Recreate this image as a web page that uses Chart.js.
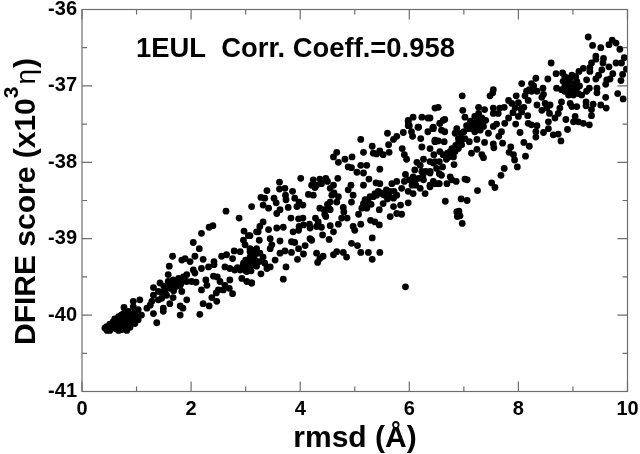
<!DOCTYPE html>
<html>
<head>
<meta charset="utf-8">
<style>html,body{margin:0;padding:0;background:#fff}canvas{display:block}</style>
<script src="https://cdn.jsdelivr.net/npm/chart.js@4/dist/chart.umd.min.js"></script>
</head>
<body>
<canvas id="c" width="640" height="454"></canvas>
<script>
const xTicks = [0,2,4,6,8,10];
const yTicks = [-36,-37,-38,-39,-40,-41];
const xLabel = "rmsd (Å)";
const note = "1EUL  Corr. Coeff.=0.958";
const rmsdMain = [
9.28,9.36,9.51,9.66,9.72,9.79,9.86,9.42,9.42,9.56,
9.55,9.34,9.31,9.19,9.11,8.98,9.31,9.53,9.47,9.42,
9.66,9.79,9.89,9.94,9.98,9.91,9.88,9.73,9.62,9.68,
9.60,9.44,9.44,9.30,9.25,9.82,9.92,9.60,9.51,9.61,
9.37,9.34,9.34,9.24,9.24,9.30,9.19,9.10,9.01,9.04,
9.07,8.98,8.95,8.79,8.76,8.73,8.67,8.87,8.90,8.78,
8.73,8.64,8.46,8.32,8.32,8.55,8.55,8.57,8.52,8.58,
8.43,8.34,8.49,8.43,8.46,8.45,8.34,8.24,8.15,8.06,
8.24,8.32,8.54,8.60,8.69,8.81,8.85,8.92,8.70,8.79,
8.82,8.92,8.98,9.07,9.01,8.92,8.85,9.07,8.89,9.16,
9.25,9.10,9.07,6.97,7.54,7.53,7.48,6.53,6.47,6.98,
7.02,7.27,7.38,7.54,7.66,7.74,7.54,7.63,7.82,7.96,
7.88,7.94,8.10,8.18,8.06,8.00,7.82,7.75,7.95,8.17,
8.18,8.24,8.34,8.03,8.10,8.20,8.13,7.86,7.83,7.91,
7.93,7.98,7.74,7.68,7.51,7.57,7.25,7.02,7.06,6.95,
7.06,6.91,6.88,6.66,6.87,6.93,6.97,7.11,7.17,7.24,
7.30,7.36,7.30,7.20,7.14,7.08,7.27,7.33,7.20,7.27,
7.45,7.54,7.60,7.69,7.64,7.71,7.54,7.55,7.38,7.24,
7.10,7.02,7.00,6.87,6.84,6.90,6.96,6.90,6.84,6.81,
6.72,6.75,6.56,6.62,6.47,6.53,6.64,6.45,7.14,7.24,
7.33,7.36,6.82,6.61,6.55,6.47,6.38,6.59,6.75,6.78,
6.86,6.69,6.55,6.47,6.38,6.38,6.62,6.56,6.38,6.44,
6.59,6.65,6.65,
5.11,5.60,5.98,6.17,6.00,6.44,6.34,6.04,6.06,5.89,
5.77,5.71,5.62,5.32,6.21,6.23,6.47,6.38,5.87,5.91,
5.95,5.46,5.34,5.40,5.63,5.52,5.16,4.67,4.61,4.70,
4.82,4.95,4.88,4.94,5.11,5.22,5.04,5.16,5.26,5.46,
5.16,5.39,5.46,6.14,6.26,6.20,6.44,6.23,6.38,5.93,
5.77,5.91,6.07,6.10,6.17,6.26,6.44,6.53,6.38,5.86,
5.98,6.07,6.20,6.29,5.62,5.71,5.77,5.65,5.55,5.40,
5.34,5.25,5.16,5.22,5.13,5.07,5.52,5.71,5.77,5.86,
5.84,5.98,5.65,5.45,5.29,5.37,5.45,5.11,4.97,5.00,
5.32,4.94,5.05,5.11,5.25,5.46,5.32,5.93,4.85,4.79,
4.67,4.61,4.30,4.42,4.36,4.32,4.53,4.41,4.61,4.55,
4.70,4.39,4.30,4.33,4.28,4.18,4.17,4.76,4.86,4.47,
4.55,4.36,4.44,4.52,4.79,4.80,4.67,4.55,4.70,4.58,
4.55,4.61,4.94,4.97,4.88,4.93,4.69,4.47,4.36,4.24,
4.21,4.27,4.15,4.24,4.39,4.01,3.62,3.62,3.72,3.86,
3.73,3.74,3.90,3.98,4.05,3.94,3.78,3.39,3.28,3.35,
3.52,3.56,3.32,3.42,3.11,3.63,3.57,3.83,3.97,4.05,
3.32,3.26,3.20,3.42,3.57,3.69,3.87,3.98,3.97,4.06,
3.08,3.25,3.45,3.63,3.48,3.45,3.84,3.90,4.18,4.21,
4.09,3.97,3.84,3.72,3.63,4.06,3.95,3.54,3.74,3.69,
3.28,3.11,3.32,3.14,3.08,3.20,3.26,3.17,3.35,3.45,
3.39,3.08,5.19,5.28,5.37,5.43,5.52,
2.64,2.88,6.34,6.23,6.07,5.98,5.98,6.16,6.43,6.56,
2.40,2.33,2.19,2.04,2.15,1.66,1.60,1.83,1.89,1.98,
2.07,2.22,2.42,2.42,2.32,2.19,2.04,2.56,2.65,2.79,
2.76,2.62,2.90,2.97,3.05,2.96,2.99,3.23,3.17,3.08,
2.71,2.80,2.90,3.02,2.96,3.11,3.08,3.02,2.93,3.02,
3.11,2.07,2.09,2.01,1.92,2.41,2.48,2.27,2.29,2.19,
2.71,2.62,2.53,2.50,2.59,2.70,2.76,2.46,2.38,2.47,
2.33,2.22,2.16,1.58,1.43,1.31,1.58,1.67,1.77,1.86,
1.92,1.80,1.70,1.83,1.61,1.52,1.40,1.31,1.40,1.28,
1.25,1.46,1.55,1.67,1.92,1.80,1.85,1.61,1.49,1.49,
1.31,1.80,1.37,1.06,0.94,0.77,0.94,1.03,0.85,0.76,
0.67,1.09,1.00,0.91,0.82,0.70,0.57,0.51,0.45,0.46,
0.54,0.64,0.73,0.79,0.88,0.97,1.03,0.60,0.76,0.88,
0.94,0.67,0.51,0.42,0.82,0.70,1.19
];
const scoreMain = [
-36.36,-36.47,-36.50,-36.46,-36.40,-36.44,-36.52,-36.61,-36.65,-36.64,
-36.70,-36.70,-36.76,-36.77,-36.81,-36.86,-36.81,-36.79,-36.86,-36.91,
-36.75,-36.70,-36.70,-36.63,-36.78,-36.85,-36.93,-36.84,-36.92,-36.91,
-36.98,-37.03,-37.09,-37.03,-36.92,-37.10,-37.17,-37.15,-37.25,-37.29,
-37.24,-37.31,-37.39,-37.21,-37.26,-37.51,-37.49,-37.47,-37.47,-37.40,
-37.27,-37.27,-37.23,-37.21,-37.29,-37.36,-37.42,-37.44,-37.57,-37.72,
-37.63,-37.64,-37.61,-37.67,-37.60,-37.56,-37.47,-37.36,-37.29,-37.25,
-37.32,-37.25,-37.23,-37.15,-37.11,-37.03,-37.07,-37.07,-37.07,-36.97,
-36.97,-36.90,-36.91,-36.70,-36.84,-36.83,-36.88,-36.94,-37.03,-37.05,
-36.94,-36.99,-37.03,-37.03,-37.12,-37.12,-37.07,-36.94,-36.90,-37.12,
-37.07,-37.10,-36.99,-37.13,-37.05,-37.09,-37.13,-37.28,-37.29,-37.32,
-37.41,-37.28,-37.31,-37.29,-37.29,-37.28,-37.36,-37.36,-37.19,-37.13,
-37.23,-37.29,-37.28,-37.19,-37.34,-37.40,-37.42,-37.49,-37.50,-37.39,
-37.49,-37.51,-37.52,-37.61,-37.74,-37.79,-37.92,-37.80,-37.87,-37.90,
-37.97,-38.06,-38.08,-38.17,-38.27,-38.33,-38.37,-38.22,-38.23,-38.48,
-38.50,-38.64,-38.71,-38.51,-38.65,-38.70,-38.80,-37.51,-37.49,-37.47,
-37.49,-37.53,-37.58,-37.60,-37.56,-37.56,-37.53,-37.42,-37.40,-37.36,
-37.62,-37.53,-37.50,-37.60,-37.66,-37.75,-37.76,-37.81,-37.74,-37.70,
-37.73,-37.69,-37.60,-37.56,-37.62,-37.69,-37.77,-37.82,-37.86,-37.93,
-37.93,-37.86,-37.86,-37.90,-37.73,-37.72,-37.73,-37.90,-37.88,-37.83,
-37.90,-37.94,-38.03,-38.06,-37.99,-37.99,-37.99,-38.17,-38.19,-38.23,
-38.25,-38.28,-38.28,-38.28,-38.30,-38.14,-37.45,-37.49,-37.42,-37.56,
-37.58,-37.60,-37.44,
-37.70,-37.62,-37.47,-37.54,-37.52,-37.54,-37.60,-37.60,-37.66,-37.61,
-37.66,-37.70,-37.77,-37.79,-37.69,-37.80,-37.71,-37.82,-37.82,-37.90,
-37.96,-37.85,-37.88,-37.89,-37.87,-37.90,-37.87,-37.87,-37.93,-38.00,
-37.96,-37.93,-38.06,-38.07,-38.04,-38.04,-38.13,-38.14,-38.22,-38.09,
-38.30,-38.27,-38.28,-38.00,-37.96,-38.04,-38.01,-38.12,-38.12,-38.16,
-38.25,-38.25,-38.19,-38.25,-38.21,-38.23,-38.25,-38.28,-38.32,-38.34,
-38.38,-38.41,-38.34,-38.41,-38.43,-38.47,-38.43,-38.38,-38.43,-38.43,
-38.45,-38.52,-38.54,-38.60,-38.60,-38.68,-38.54,-38.58,-38.67,-38.68,
-38.56,-38.53,-38.71,-38.62,-38.76,-38.78,-38.82,-38.81,-38.84,-38.89,
-38.99,-39.06,-39.09,-39.18,-39.18,-39.18,-39.27,-39.63,-39.24,-39.18,
-39.17,-39.21,-39.19,-39.23,-39.26,-39.31,-39.01,-38.95,-38.91,-38.83,
-38.81,-38.85,-38.84,-38.78,-38.73,-38.86,-38.81,-38.73,-38.73,-38.71,
-38.62,-38.60,-38.62,-38.60,-38.59,-38.65,-38.52,-38.52,-38.45,-38.43,
-38.34,-38.30,-38.52,-38.43,-38.36,-38.30,-38.21,-38.21,-38.22,-38.23,
-38.30,-38.33,-38.42,-38.43,-38.28,-38.21,-38.26,-38.35,-38.34,-38.38,
-38.43,-38.49,-38.47,-38.52,-38.56,-38.58,-38.59,-38.37,-38.46,-38.47,
-38.47,-38.53,-38.56,-38.60,-38.58,-38.62,-38.67,-38.73,-38.74,-38.73,
-38.78,-38.84,-38.91,-38.88,-38.86,-38.85,-38.91,-38.84,-38.89,-38.82,
-38.96,-39.02,-39.00,-39.03,-39.08,-39.13,-39.04,-39.05,-39.00,-39.02,
-39.09,-39.13,-39.18,-39.16,-39.19,-39.20,-39.27,-39.28,-39.37,-39.53,
-39.46,-39.58,-39.24,-39.24,-39.17,-39.13,-39.19,-39.28,-39.32,-39.37,
-39.39,-39.37,-38.49,-38.45,-38.41,-38.38,-38.42,
-38.64,-38.73,-37.42,-37.41,-37.41,-37.45,-37.52,-37.54,-37.55,-37.49,
-38.83,-38.85,-38.93,-39.05,-39.13,-39.23,-39.36,-39.28,-39.26,-39.30,
-39.23,-39.27,-39.30,-39.34,-39.37,-39.39,-39.41,-39.23,-39.21,-39.16,
-39.26,-39.37,-39.17,-38.90,-38.96,-39.02,-39.08,-38.91,-39.15,-39.13,
-39.39,-39.41,-39.41,-39.37,-39.32,-39.30,-39.24,-39.43,-39.52,-39.56,
-39.58,-39.45,-39.57,-39.56,-39.47,-39.49,-39.50,-39.54,-39.61,-39.67,
-39.54,-39.61,-39.56,-39.67,-39.67,-39.65,-39.72,-39.71,-39.77,-39.82,
-39.88,-39.85,-39.99,-39.47,-39.58,-39.64,-39.56,-39.54,-39.52,-39.50,
-39.56,-39.61,-39.63,-39.69,-39.65,-39.67,-39.69,-39.74,-39.80,-39.82,
-39.87,-39.78,-39.74,-39.77,-39.80,-39.88,-39.91,-39.85,-39.91,-39.95,
-39.98,-40.00,-40.10,-39.80,-39.82,-39.90,-39.89,-39.93,-39.95,-39.98,
-40.02,-40.00,-40.02,-40.00,-40.04,-40.06,-40.09,-40.12,-40.15,-40.20,
-40.17,-40.15,-40.19,-40.13,-40.16,-40.11,-40.06,-40.11,-40.09,-40.09,
-40.06,-40.20,-40.20,-40.17,-40.20,-40.11,-39.91
];
const rmsdDense = [
0.55,0.62,0.70,0.78,0.85,0.60,0.75,0.85,0.92,0.72,0.80,0.97,0.50,0.66,0.83,
1.65,1.72,1.75,1.82,1.60,1.68,1.45,1.50,
3.00,3.05,2.95,3.10,3.15,3.00,2.85,3.18,3.25,3.10,3.20,
7.12,7.18,7.22,7.30,7.22,7.28,7.05,7.35,6.95,7.40,
8.88,8.95,9.03,9.00,8.85,8.95,9.05,9.12,
6.70,6.85,6.78,6.90,6.68,6.80,6.95,
8.05,8.00,7.90,8.12,8.20,8.28,
5.48,5.58,5.60,5.72,5.68,5.30,
4.50,4.45,4.62,4.50,4.30,
6.30,6.12,6.05,6.25,6.50,6.55,6.10,6.00
];
const scoreDense = [
-40.13,-40.18,-40.16,-40.17,-40.12,-40.05,-40.03,-40.05,-40.03,-40.00,-39.98,-39.96,-40.17,-40.10,-40.09,
-39.58,-39.57,-39.62,-39.58,-39.62,-39.68,-39.70,-39.62,
-39.28,-39.33,-39.36,-39.35,-39.33,-39.42,-39.38,-39.20,-39.30,-39.42,-39.36,
-37.46,-37.54,-37.57,-37.44,-37.50,-37.56,-37.52,-37.48,-37.62,-37.45,
-36.97,-37.06,-36.97,-37.07,-37.01,-36.90,-36.88,-37.00,
-37.88,-37.78,-37.82,-37.75,-37.96,-37.86,-37.70,
-37.30,-37.22,-37.35,-37.13,-37.05,-37.00,
-38.40,-38.36,-38.48,-38.38,-38.28,-38.55,
-38.55,-38.68,-38.40,-38.25,-38.30,
-38.12,-38.30,-38.30,-38.17,-38.08,-38.15,-38.10,-38.23
];
const rmsd = rmsdMain.concat(rmsdDense);
const score = scoreMain.concat(scoreDense);
const points = rmsd.map((x,i)=>({x, y:score[i]}));

const FONT = '"Liberation Sans", Arial, sans-serif';
const axisGrey = '#6e6e6e';

const frame = {
  id:'frame',
  afterDatasetsDraw(chart){
    const {ctx, chartArea:a, scales:{x,y}} = chart;
    ctx.save();
    ctx.strokeStyle = axisGrey;
    ctx.lineWidth = 1.2;
    ctx.strokeRect(a.left, a.top, a.right-a.left, a.bottom-a.top);
    ctx.beginPath();
    for(let v=x.min; v<=x.max; v+=1){
      const p=x.getPixelForValue(v), l=v%2===0?10:5;
      ctx.moveTo(p,a.bottom); ctx.lineTo(p,a.bottom-l);
      ctx.moveTo(p,a.top); ctx.lineTo(p,a.top+l);
    }
    for(let v=y.min; v<=y.max; v+=0.5){
      const p=y.getPixelForValue(v), l=Number.isInteger(v)?10:5;
      ctx.moveTo(a.left,p); ctx.lineTo(a.left+l,p);
      ctx.moveTo(a.right,p); ctx.lineTo(a.right-l,p);
    }
    ctx.stroke();

    ctx.fillStyle='#000';
    ctx.textBaseline='alphabetic';
    ctx.textAlign='left';
    ctx.font='bold 27.4px '+FONT;
    ctx.fillText(note,136,57);

    ctx.font='bold 30px '+FONT;
    ctx.textAlign='center';
    ctx.fillText(xLabel,355,447);

    ctx.translate(35,345);
    ctx.rotate(-Math.PI/2);
    ctx.textAlign='left';
    ctx.font='bold 30px '+FONT;
    const t1='DFIRE score (x10';
    ctx.fillText(t1,0,0);
    let w=ctx.measureText(t1).width;
    ctx.font='bold 21px '+FONT;
    ctx.fillText('3',w,-17);
    w+=ctx.measureText('3').width+2;
    ctx.font='28px '+FONT;
    ctx.fillText('η',w,0);
    w+=ctx.measureText('η').width+1;
    ctx.font='bold 30px '+FONT;
    ctx.fillText(')',w,0);
    ctx.restore();
  }
};

function noPad(s){s.paddingLeft=0;s.paddingRight=0;s.paddingTop=0;s.paddingBottom=0;}

new Chart(document.getElementById('c'),{
  type:'scatter',
  data:{datasets:[{data:points,backgroundColor:'#000',borderColor:'#000',pointRadius:3.4,pointBorderWidth:0,pointHoverRadius:3.4}]},
  options:{
    responsive:false,animation:false,
    layout:{padding:{top:9.5,right:12.5,left:0,bottom:0}},
    plugins:{legend:{display:false},tooltip:{enabled:false},title:{display:false}},
    scales:{
      x:{type:'linear',min:0,max:10,
        afterBuildTicks(s){s.ticks=xTicks.map(value=>({value}));},
        afterFit(s){s.height=62.5;noPad(s);},
        grid:{display:false,drawTicks:false},border:{display:false},
        ticks:{color:'#000',padding:6,maxRotation:0,font:{family:FONT,weight:'bold',size:20}}},
      y:{type:'linear',min:-41,max:-36,
        afterBuildTicks(s){s.ticks=yTicks.map(value=>({value}));},
        afterFit(s){s.width=82;noPad(s);},
        grid:{display:false,drawTicks:false},border:{display:false},
        ticks:{color:'#000',padding:5,font:{family:FONT,weight:'bold',size:20}}}
    }
  },
  plugins:[frame]
});
</script>
</body>
</html>
